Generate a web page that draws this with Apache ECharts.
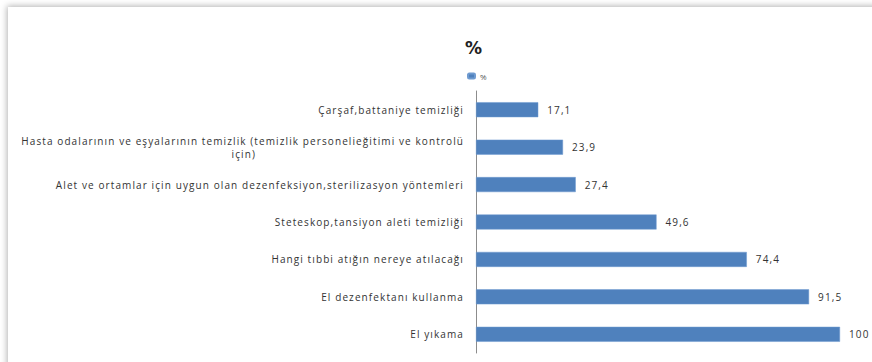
<!DOCTYPE html>
<html>
<head>
<meta charset="utf-8">
<script src="https://cdn.jsdelivr.net/npm/echarts@6/dist/echarts.min.js"></script>
<style>
html,body{margin:0;padding:0;background:#fff;}
#chart{width:872px;height:362px;}
#chart text{letter-spacing:1.1px;}
</style>
</head>
<body>
<div id="chart"></div>
<script>
const categories = [
  "Çarşaf,battaniye temizliği",
  "Hasta odalarının ve eşyalarının temizlik (temizlik personelieğitimi ve kontrolü için)",
  "Alet ve ortamlar için uygun olan dezenfeksiyon,sterilizasyon yöntemleri",
  "Steteskop,tansiyon aleti temizliği",
  "Hangi tıbbi atığın nereye atılacağı",
  "El dezenfektanı kullanma",
  "El yıkama"
];
const values = [17.1, 23.9, 27.4, 49.6, 74.4, 91.5, 100];
const seriesName = "%";
const titleText = "%";

function wrapWords(text, maxChars) {
  const words = text.split(' ');
  const lines = [];
  let cur = '';
  words.forEach(w => {
    if (cur && (cur + ' ' + w).length > maxChars) { lines.push(cur); cur = w; }
    else cur = cur ? cur + ' ' + w : w;
  });
  if (cur) lines.push(cur);
  return lines;
}

const labelFont = {fontFamily: 'Open Sans', fontSize: 10, color: '#333', lineHeight: 13};

const chart = echarts.init(document.getElementById('chart'), null, {renderer: 'svg'});
chart.setOption({
  animation: false,
  backgroundColor: '#fff',
  graphic: [{
    type: 'rect', z: -10, silent: true,
    shape: {x: 8, y: 7, width: 900, height: 400},
    style: {fill: '#fff', shadowBlur: 6, shadowColor: 'rgba(0,0,0,0.3)', shadowOffsetX: -1, shadowOffsetY: -1}
  }],
  title: {
    text: titleText, left: 469, top: 34, textAlign: 'center',
    textStyle: {fontFamily: 'DejaVu Sans', fontSize: 17, fontWeight: 'bold', color: '#222'}
  },
  legend: {
    data: [seriesName], left: 462, top: 67,
    itemWidth: 7, itemHeight: 5, itemGap: 4,
    textStyle: {fontFamily: 'Open Sans', fontSize: 8, color: '#555'}
  },
  grid: {left: 476, right: 32, top: 91, bottom: 9, containLabel: false},
  xAxis: {
    type: 'value', min: 0, max: 100, show: false
  },
  yAxis: {
    type: 'category', data: categories, inverse: true,
    axisLine: {show: true, lineStyle: {color: '#8c8c8c', width: 1}},
    axisTick: {show: false},
    axisLabel: Object.assign({}, labelFont, {
      margin: 12,
      formatter: v => wrapWords(v, 80).map((l, i) => (i === 0 ? '{a|' : '{b|') + l + '}').join('\n'),
      rich: {
        a: Object.assign({}, labelFont),
        b: Object.assign({}, labelFont, {padding: [0, 208, 0, 0]})
      }
    })
  },
  series: [{
    name: seriesName, type: 'bar', data: values, barWidth: 15,
    itemStyle: {color: '#4F81BD', borderColor: '#6f9bd0', borderWidth: 0.5},
    label: {
      show: true, position: 'right', distance: 9,
      fontFamily: 'Open Sans', fontSize: 10, color: '#333',
      formatter: p => String(p.value).replace('.', ',')
    }
  }]
});
</script>
</body>
</html>
